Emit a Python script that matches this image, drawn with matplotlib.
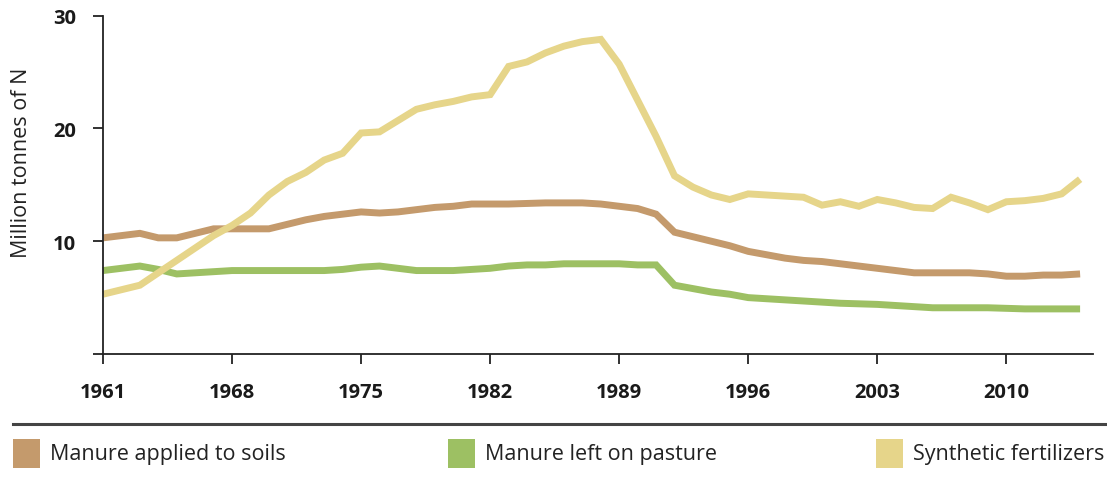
import matplotlib
matplotlib.use("Agg")
import matplotlib.pyplot as plt
from matplotlib.patches import Rectangle
from matplotlib.lines import Line2D

years = list(range(1961, 2015))

manure_applied = [10.3, 10.5, 10.7, 10.3, 10.3, 10.7, 11.1, 11.1, 11.1, 11.1,
                  11.5, 11.9, 12.2, 12.4, 12.6, 12.5, 12.6, 12.8, 13.0, 13.1,
                  13.3, 13.3, 13.3, 13.35, 13.4, 13.4, 13.4, 13.3, 13.1, 12.9,
                  12.4, 10.8, 10.4, 10.0, 9.6, 9.1, 8.8, 8.5, 8.3, 8.2,
                  8.0, 7.8, 7.6, 7.4, 7.2, 7.2, 7.2, 7.2, 7.1, 6.9,
                  6.9, 7.0, 7.0, 7.1]

manure_pasture = [7.4, 7.6, 7.8, 7.5, 7.1, 7.2, 7.3, 7.4, 7.4, 7.4,
                  7.4, 7.4, 7.4, 7.5, 7.7, 7.8, 7.6, 7.4, 7.4, 7.4,
                  7.5, 7.6, 7.8, 7.9, 7.9, 8.0, 8.0, 8.0, 8.0, 7.9,
                  7.9, 6.1, 5.8, 5.5, 5.3, 5.0, 4.9, 4.8, 4.7, 4.6,
                  4.5, 4.45, 4.4, 4.3, 4.2, 4.1, 4.1, 4.1, 4.1, 4.05,
                  4.0, 4.0, 4.0, 4.0]

synthetic = [5.3, 5.7, 6.1, 7.2, 8.3, 9.4, 10.5, 11.4, 12.5, 14.1,
             15.3, 16.1, 17.2, 17.8, 19.6, 19.7, 20.7, 21.7, 22.1, 22.4,
             22.8, 23.0, 25.5, 25.9, 26.7, 27.3, 27.7, 27.9, 25.7, 22.5,
             19.3, 15.8, 14.8, 14.1, 13.7, 14.2, 14.1, 14.0, 13.9, 13.2,
             13.5, 13.1, 13.7, 13.4, 13.0, 12.9, 13.9, 13.4, 12.8, 13.5,
             13.6, 13.8, 14.2, 15.5]

series_labels = ["Manure applied to soils", "Manure left on pasture", "Synthetic fertilizers"]
colors = ["#c49a6c", "#9dc063", "#e6d58a"]
xticks = [1961, 1968, 1975, 1982, 1989, 1996, 2003, 2010]
yticks = [0, 10, 20, 30]
ytick_labels = ["", "10", "20", "30"]

FONT = ["Open Sans", "DejaVu Sans"]

fig = plt.figure(figsize=(11.07, 4.81), dpi=100)
W, H = 1107, 481
ax = fig.add_axes([103 / W, 1 - 355 / H, (1093 - 103) / W, (355 - 16.7) / H])

for vals, c in zip([manure_applied, manure_pasture, synthetic], colors):
    ax.plot(years, vals, color=c, lw=5.0, solid_joinstyle="miter", solid_capstyle="butt", clip_on=False)

ax.set_xlim(1961, 2014.7)
ax.set_ylim(0, 30)
ax.set_xticks(xticks)
ax.set_xticklabels([str(t) for t in xticks], fontsize=14.5, fontweight="bold",
                   color="#1a1a1a", family=FONT)
ax.set_yticks(yticks)
ax.set_yticklabels(ytick_labels, fontsize=14.5, fontweight="bold", color="#1a1a1a", family=FONT)
for s in ["top", "right"]:
    ax.spines[s].set_visible(False)
for s in ["left", "bottom"]:
    ax.spines[s].set_color("#222222")
    ax.spines[s].set_linewidth(1.3)
ax.tick_params(axis="both", length=7.5, width=1.3, color="#222222")
ax.tick_params(axis="x", pad=13)
ax.tick_params(axis="y", pad=12)

fig.text(22 / W, 1 - 163 / H, "Million tonnes of N", rotation=90, ha="center", va="center",
         fontsize=15.5, color="#222222", family=FONT)

# separator line
fig.add_artist(Line2D([13 / W, 1.0], [1 - 425 / H, 1 - 425 / H], color="#444444", lw=2.2,
                      transform=fig.transFigure))

# legend
leg_x = [13, 448, 876]
for x0, lab, c in zip(leg_x, series_labels, colors):
    fig.add_artist(Rectangle((x0 / W, 1 - 469 / H), 27 / W, 29 / H, color=c,
                             transform=fig.transFigure, lw=0))
    fig.text((x0 + 37) / W, 1 - 455 / H, lab, ha="left", va="center", fontsize=15.5,
             color="#222222", family=FONT)

fig.savefig("out.png", dpi=100)
